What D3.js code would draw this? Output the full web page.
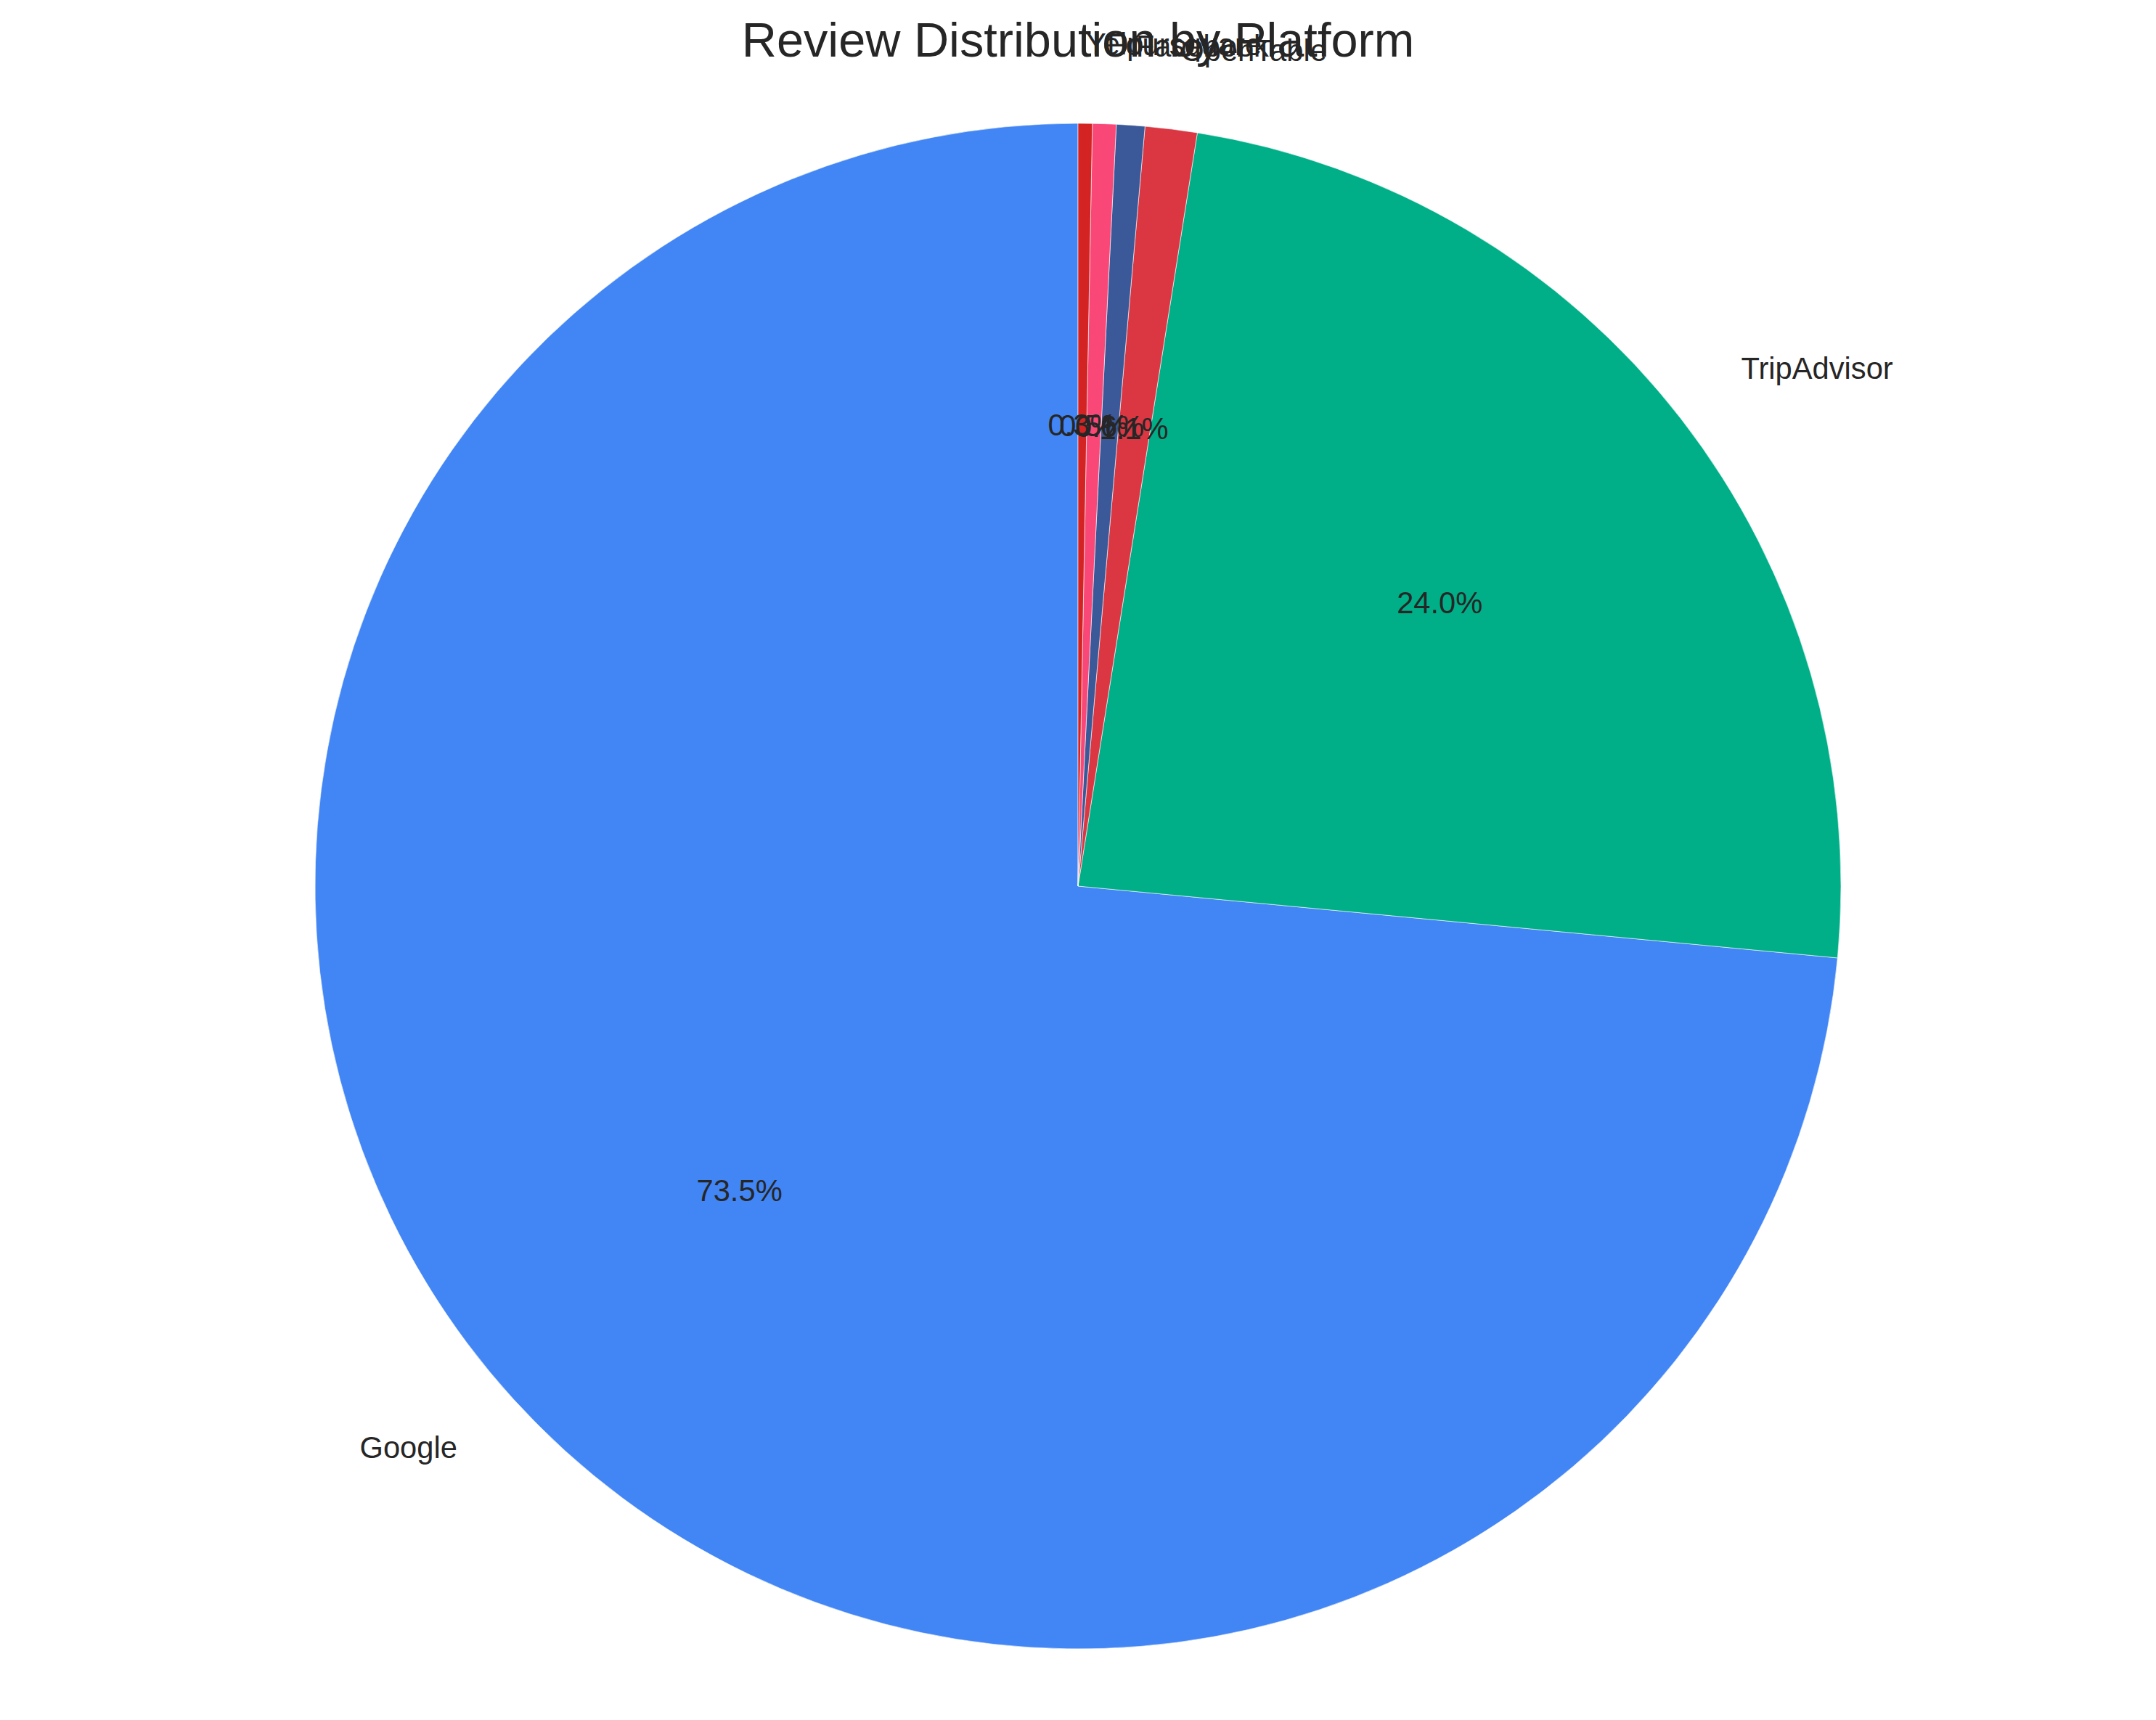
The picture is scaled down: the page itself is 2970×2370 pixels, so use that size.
<!DOCTYPE html>
<html>
<head>
<meta charset="utf-8">
<script src="https://cdn.jsdelivr.net/npm/d3@7"></script>
<style>
  html, body { margin: 0; padding: 0; background: #ffffff; }
  svg { display: block; }
</style>
</head>
<body>
<svg id="chart" width="2970" height="2370"></svg>
<script>
// Data
const platforms = ["Google", "TripAdvisor", "OpenTable", "Facebook", "Foursquare", "Yelp"];
const shares = [73.5, 24.0, 1.1, 0.6, 0.5, 0.3];
const colors = ["#4285F4", "#00AF87", "#DA3743", "#3B5998", "#F94877", "#D32323"];
const titleText = "Review Distribution by Platform";

// Layout
const W = 2970, H = 2370;
const cx = 1485, cy = 1221, R = 1051;
const textColor = "#262626";
const fontFamily = "'Liberation Sans', Arial, 'DejaVu Sans', sans-serif";
const labelSize = 41.7, titleSize = 66.7;

const svg = d3.select("#chart");
svg.append("rect").attr("width", W).attr("height", H).attr("fill", "#ffffff");

const data = platforms.map((p, i) => ({ name: p, value: shares[i], color: colors[i] }));
const total = d3.sum(shares);

// matplotlib-like: start at 12 o'clock, counterclockwise
const pie = d3.pie().value(d => d.value).sort(null)
  .startAngle(0).endAngle(-2 * Math.PI);
const arcs = pie(data);

const arc = d3.arc().innerRadius(0).outerRadius(R);

const g = svg.append("g").attr("transform", `translate(${cx},${cy})`);

g.selectAll("path.slice").data(arcs).enter().append("path")
  .attr("class", "slice")
  .attr("d", arc)
  .attr("fill", d => d.data.color)
  .attr("stroke", "#ffffff")
  .attr("stroke-width", 1)
  .attr("stroke-opacity", 0.6);

const mid = d => (d.startAngle + d.endAngle) / 2;

// Percent labels at 0.6R
g.selectAll("text.pct").data(arcs).enter().append("text")
  .attr("class", "pct")
  .attr("x", d => Math.sin(mid(d)) * R * 0.6)
  .attr("y", d => -Math.cos(mid(d)) * R * 0.6)
  .attr("dy", "0.24em")
  .attr("text-anchor", "middle")
  .attr("font-family", fontFamily)
  .attr("font-size", labelSize)
  .attr("fill", textColor)
  .text(d => (d.data.value / total * 100).toFixed(1) + "%");

// Category labels at 1.1R
g.selectAll("text.lbl").data(arcs).enter().append("text")
  .attr("class", "lbl")
  .attr("x", d => Math.sin(mid(d)) * R * 1.1)
  .attr("y", d => -Math.cos(mid(d)) * R * 1.1)
  .attr("dy", "0.24em")
  .attr("text-anchor", d => Math.sin(mid(d)) > 0 ? "start" : "end")
  .attr("font-family", fontFamily)
  .attr("font-size", labelSize)
  .attr("fill", textColor)
  .text(d => d.data.name);

// Title
svg.append("text")
  .attr("x", cx)
  .attr("y", 78)
  .attr("text-anchor", "middle")
  .attr("font-family", fontFamily)
  .attr("font-size", titleSize)
  .attr("fill", textColor)
  .text(titleText);
</script>
</body>
</html>
